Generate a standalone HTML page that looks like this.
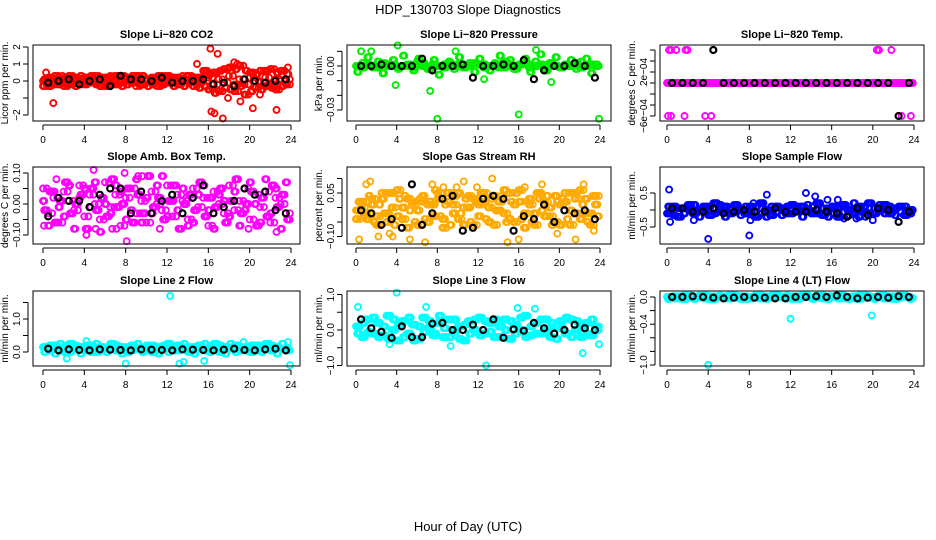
<!DOCTYPE html>
<html><head><meta charset="utf-8"><style>
html,body{margin:0;padding:0;background:#fff;}
svg{display:block;font-family:"Liberation Sans",Arial,sans-serif;}
</style></head><body>
<svg id="fig" width="936" height="540" viewBox="0 0 936 540" xmlns="http://www.w3.org/2000/svg">
<rect width="936" height="540" fill="#fff"/>
<text x="468" y="14" text-anchor="middle" font-size="13">HDP_130703  Slope Diagnostics</text>
<text x="468" y="531" text-anchor="middle" font-size="13">Hour of Day (UTC)</text>
</svg>
<script>
// ---------- data ----------
const halfHours = [0,0.5,1,1.5,2,2.5,3,3.5,4,4.5,5,5.5,6,6.5,7,7.5,8,8.5,9,9.5,10,10.5,11,11.5,12,12.5,13,13.5,14,14.5,15,15.5,16,16.5,17,17.5,18,18.5,19,19.5,20,20.5,21,21.5,22,22.5,23,23.5];
const quarterOffsetHours = [0.25,0.75,1.25,1.75,2.25,2.75,3.25,3.75,4.25,4.75,5.25,5.75,6.25,6.75,7.25,7.75,8.25,8.75,9.25,9.75,10.25,10.75,11.25,11.75,12.25,12.75,13.25,13.75,14.25,14.75,15.25,15.75,16.25,16.75,17.25,17.75,18.25,18.75,19.25,19.75,20.25,20.75,21.25,21.75,22.25,22.75,23.25,23.75];
const eighthHours = [0.12,0.62,1.12,1.62,2.12,2.62,3.12,3.62,4.12,4.62,5.12,5.62,6.12,6.62,7.12,7.62,8.12,8.62,9.12,9.62,10.12,10.62,11.12,11.62,12.12,12.62,13.12,13.62,14.12,14.62,15.12,15.62,16.12,16.62,17.12,17.62,18.12,18.62,19.12,19.62,20.12,20.62,21.12,21.62,22.12,22.62,23.12,23.62];
const threeEighthHours = [0.38,0.88,1.38,1.88,2.38,2.88,3.38,3.88,4.38,4.88,5.38,5.88,6.38,6.88,7.38,7.88,8.38,8.88,9.38,9.88,10.38,10.88,11.38,11.88,12.38,12.88,13.38,13.88,14.38,14.88,15.38,15.88,16.38,16.88,17.38,17.88,18.38,18.88,19.38,19.88,20.38,20.88,21.38,21.88,22.38,22.88,23.38,23.88];
const blackHours = [0.5,1.5,2.5,3.5,4.5,5.5,6.5,7.5,8.5,9.5,10.5,11.5,12.5,13.5,14.5,15.5,16.5,17.5,18.5,19.5,20.5,21.5,22.5,23.5];
const xTicks = [0,4,8,12,16,20,24];

// CO2
const co2A = [-0.3,0.2,-0.2,0.1,-0.3,0.3,0.1,-0.2,0.2,-0.1,0.3,-0.3,0.2,0.1,-0.2,0.3,0.2,-0.1,0.3,-0.2,0.1,0.2,-0.3,0.3,-0.1,0.2,-0.2,0.1,0.3,-0.3,0.2,0.6,-0.5,0.5,-0.6,0.7,0.8,-0.6,0.9,-0.8,0.5,-0.4,0.6,-0.3,0.7,-0.5,0.6,-0.2];
const co2B = [0.1,-0.3,0.3,-0.2,0.2,-0.1,-0.3,0.3,-0.2,0.3,-0.2,0.2,-0.3,-0.2,0.3,-0.3,-0.2,0.3,-0.1,0.3,-0.3,-0.2,0.3,-0.2,0.3,-0.3,0.2,-0.3,-0.1,0.2,-0.4,-0.3,0.4,-0.7,0.6,-0.4,-0.5,0.7,-0.3,0.6,-0.6,0.4,-0.5,0.6,-0.4,0.5,-0.3,0.4];
const co2C = [0,0.1,-0.1,0.3,0,-0.2,0.2,0,-0.1,0.1,0,0.1,-0.1,0.3,0,-0.1,0.1,0,-0.3,0.1,0,-0.1,0.1,0,0.2,-0.1,0,0.3,0,0.1,-0.1,0,0.2,-0.2,0.1,-0.1,0.3,-0.2,0.1,-0.2,0.2,0,-0.1,0.2,-0.2,0.1,0,0.1];
const co2OutX = [1,0.3,16.2,16.9,14.9,16.3,16.6,17.4,18.8,20.3,22.6,23.7,19.1,17.9,18.5,21,15.8];
const co2OutY = [-1.3,0.5,1.9,1.6,1,-1.8,-1.9,-2.2,1,-1.6,-1.7,0.8,-1.2,-1,1.1,-0.8,0.6];
const co2Black = [-0.1,0,0.1,-0.2,0,0.1,-0.3,0.3,0.1,0.1,0,0.2,-0.1,0,0,0.1,-0.2,-0.1,-0.3,0.1,0,-0.1,0,0.1];

// Pressure
const presA = [0,-0.001,0.001,0,-0.001,0.002,0,0.001,-0.001,0,0.001,-0.001,0.003,0,-0.002,0.001,0,-0.001,0.002,0,0.001,-0.001,0,0.002,0.001,-0.001,0,0.001,-0.001,0.003,0,-0.002,0.001,0.002,-0.001,0,0.001,-0.003,0.002,0,-0.001,0.001,0,0.002,-0.001,0,0.001,0];
const presB = [-0.004,0.002,0.006,-0.001,0.003,-0.005,0.001,0.004,-0.002,0.007,0,-0.003,0.005,0.002,-0.001,0.004,-0.006,0.001,0.003,-0.002,0.006,0,0.002,-0.004,0.005,0.001,-0.003,0.002,0.007,-0.001,0.004,-0.002,0.001,0.005,-0.004,0.003,0.008,-0.003,0.002,0.006,-0.001,0,0.004,-0.002,0.003,0.005,-0.005,0.001];
const presOutX = [8,16,23.9,7.3,4.1,1.5,3.9,0.5,9.8,17.7,19.2,12.6];
const presOutY = [-0.036,-0.033,-0.036,-0.017,0.014,0.01,-0.013,0.01,0.01,0.011,-0.011,-0.009];
const presBlack = [0,0,0.001,0,0,0,0.005,-0.003,0,0,0.001,-0.008,0,0,0.001,0,0.004,-0.009,-0.003,0,0,0.002,0,-0.008];

// Li-820 temperature
const tempA = [0,0,0,0,0,0,0,0,0,0,0,0,0,0,0,0,0,0,0,0,0,0,0,0,0,0,0,0,0,0,0,0,0,0,0,0,0,0,0,0,0,0,0,0,0,0,0,0];
const tempOutX = [0.2,0.4,0.9,1.8,2.0,20.4,20.5,20.6,21.8,0.1,0.4,1.7,3.7,4.3,22.8,23.7];
const tempOutY = [0.0006,0.0006,0.0006,0.0006,0.0006,0.0006,0.0006,0.0006,0.0006,-0.0006,-0.0006,-0.0006,-0.0006,-0.0006,-0.0006,-0.0006];
const tempBlack = [0,0,0,0,0.0006,0,0,0,0,0,0,0,0,0,0,0,0,0,0,0,0,0,-0.0006,0];

// Amb box temp
const ambA = [0.05,-0.03,0.02,-0.06,0.04,0.01,-0.02,0.06,-0.04,0.03,0,-0.05,0.07,-0.01,0.03,-0.07,0.02,0.05,-0.03,0.01,-0.06,0.04,0,-0.02,0.06,-0.04,0.03,0.01,-0.05,0.05,-0.01,0.02,-0.07,0.04,0,-0.03,0.06,-0.02,0.01,0.05,-0.05,0.03,-0.01,0.04,-0.06,0.02,0,-0.03];
const ambB = [-0.02,0.04,-0.06,0.01,0.07,-0.03,0,0.03,-0.08,0.05,-0.02,0.02,-0.04,0.08,-0.01,0,0.05,-0.06,0.03,-0.03,0.09,-0.01,0.02,-0.05,0.01,0.06,-0.08,0,0.03,-0.02,0.07,-0.04,0.02,-0.01,0.05,-0.06,0.01,0.08,-0.03,0,0.04,-0.07,0.02,-0.04,0.06,-0.01,0.03,-0.05];
const ambC = [0.01,-0.07,0.04,-0.01,-0.04,0.06,-0.08,0.02,0.05,-0.01,0.07,-0.09,0,-0.03,0.06,0.04,-0.05,-0.02,0.08,-0.06,0.02,-0.03,0.06,0.09,-0.04,0.01,-0.02,0.05,-0.07,-0.06,0.03,0.06,-0.02,-0.08,0.03,0.01,-0.04,0.04,-0.07,-0.02,0.07,0,-0.06,0.08,-0.03,0.05,-0.08,0.07];
const ambOutX = [0.1,4.9,4.2,7.9,8.1,7.1,9.2,9.6,11.3,19.9,22.6,1.3,6.7,5.1];
const ambOutY = [-0.07,0.11,-0.1,0.1,-0.12,-0.08,0.09,0.09,-0.08,-0.08,-0.09,0.08,-0.08,-0.08];
const ambBlack = [-0.04,0.02,0.01,0.01,-0.01,0.03,0.05,0.05,-0.03,0.04,-0.03,0.01,0.03,-0.03,0.02,0.06,-0.03,-0.01,0.01,0.05,0.03,0.04,-0.02,-0.03];

// Gas stream RH
const rhA = [-0.01,0.02,-0.04,0.01,-0.06,0.03,-0.02,0.05,-0.03,0,-0.07,0.02,-0.01,0.04,-0.05,0.01,0.03,-0.04,0.02,-0.02,0.05,-0.06,0,0.03,-0.03,0.02,-0.05,0.04,-0.01,0.06,-0.04,0.01,0.02,-0.07,0.03,-0.02,0.05,-0.03,0,0.04,-0.06,0.02,-0.01,0.05,-0.04,0.03,-0.02,0.01];
const rhB = [0.02,-0.03,0.04,-0.05,0.01,-0.02,0.05,-0.06,0.03,0.04,-0.01,-0.05,0.03,-0.04,0.02,0.06,-0.03,0.01,-0.06,0.04,-0.02,0.03,-0.05,0.02,0.05,-0.04,0.03,-0.01,0.04,-0.05,0.02,0.05,-0.04,0.02,-0.05,0.05,-0.01,0.04,-0.06,0.02,0.03,-0.04,0.05,-0.02,0.01,-0.05,0.04,-0.03];
const rhC = [-0.04,0,-0.02,0.03,-0.03,0.05,-0.05,0,0.06,-0.04,0.03,0.01,-0.06,0.02,0.01,-0.03,0.05,-0.07,0.05,0.01,-0.04,0,0.04,-0.06,0.01,0.05,0,-0.06,0.02,-0.02,0.05,-0.05,0.06,-0.02,0.01,-0.06,0.03,0.02,-0.03,-0.05,0.01,0.05,-0.06,0.03,0.06,-0.02,-0.06,0.04];
const rhOutX = [0.3,1,1.4,2.2,3.3,3.6,5.3,6.8,8.6,9.9,11.9,13.4,14.9,16,16.6,18.3,19.8,21.6,22.4,23.4,10.6,7.5];
const rhOutY = [-0.11,0.08,0.09,-0.1,-0.09,-0.1,-0.11,-0.12,0.07,0.07,0.07,0.1,-0.12,-0.11,0.07,0.08,-0.09,-0.11,0.08,-0.08,0.09,0.08];
const rhBlack = [-0.01,-0.02,-0.06,-0.04,-0.07,0.08,-0.06,-0.02,0.03,0.04,-0.08,-0.07,0.03,0.04,0.03,-0.08,-0.03,-0.04,0.01,-0.05,-0.01,-0.02,-0.01,-0.04];

// Sample flow
const sfA = [-0.1,0.1,-0.2,0.05,0.15,-0.1,0,0.1,-0.15,0.2,-0.05,0.1,-0.1,0.15,0,-0.1,0.1,-0.2,0.2,0,-0.15,0.1,0.05,-0.1,0.15,-0.05,0.1,0,-0.1,0.2,-0.15,0.05,0.1,-0.2,0.15,0,-0.1,0.1,-0.05,0.2,-0.1,0,0.15,-0.1,0.05,0.1,-0.15,0];
const sfB = [0.1,-0.15,0.05,-0.1,0,0.15,-0.2,0,0.1,-0.1,0.15,-0.2,0.05,-0.05,-0.15,0.1,-0.05,0.1,-0.1,-0.2,0.1,-0.05,-0.15,0.1,-0.1,0.1,-0.2,0.15,0.1,-0.1,0.05,-0.2,-0.1,0.1,-0.05,-0.15,0.2,-0.2,0.1,-0.1,0.05,0.15,-0.1,0.1,-0.15,-0.05,0.1,-0.1];
const sfOutX = [0.2,0.3,4,8,8.1,9.7,13.5,14.4,15.6,16.6,17.2,18.4,20,2.6,19.3,8.4];
const sfOutY = [0.6,-0.35,-0.85,-0.75,-0.3,0.45,0.5,0.4,0.3,0.3,-0.25,-0.25,-0.3,-0.3,-0.2,0.2];
const sfBlack = [0.05,0.05,-0.05,-0.05,0.05,-0.1,-0.05,0,-0.05,-0.05,0.05,-0.05,-0.05,-0.05,0,-0.05,-0.1,-0.2,0.05,-0.15,0.05,0,-0.35,-0.05];

// Line 2 flow
const l2A = [0.15,0.05,0.2,0.1,0,0.25,0.1,0.15,0.05,0.2,0,0.15,0.1,0.25,0.05,0.15,0,0.2,0.1,0.05,0.2,0,0.15,0.1,0.25,0.05,0.2,0.1,0,0.15,0.2,0.05,0.1,0.25,0,0.15,0.1,0.2,0.05,0.15,0,0.2,0.1,0.25,0.05,0.15,0.1,0.05];
const l2B = [0,0.2,-0.05,0.25,0.15,0,0.2,-0.05,0.2,0,0.25,0.05,0,0.1,0.2,-0.05,0.15,0.05,0.25,0,0.1,0.2,-0.05,0.2,0,0.15,0.05,0.25,0.15,-0.05,0.1,0.25,0,0.1,0.2,-0.05,0.25,0,0.15,0.05,0.2,0.05,0,0.1,0.2,-0.05,0.25,0.1];
const l2OutX = [12.3,2.3,8,13.2,13.6,15.6,23.9,23.7,4.2,19.4];
const l2OutY = [1.7,-0.2,-0.35,-0.35,-0.3,-0.27,-0.4,0.3,0.33,0.3];
const l2Black = [0.1,0.05,0.08,0.06,0.05,0.08,0.07,0.06,0.05,0.08,0.07,0.06,0.05,0.08,0.07,0.06,0.05,0.07,0.1,0.06,0.05,0.08,0.1,0.05];

// Line 3 flow
const l3A = [0.1,-0.2,0.3,-0.1,0.2,-0.15,0.4,0,-0.3,0.25,-0.1,0.15,-0.25,0.35,0.05,-0.15,0.2,-0.2,0.3,-0.05,0.1,-0.3,0.25,0,0.35,-0.1,0.2,-0.2,0.1,0.3,-0.25,0.15,0,0.4,-0.15,0.2,-0.1,0.3,-0.2,0.1,0.25,-0.1,0.3,0,-0.2,0.2,-0.15,0.1];
const l3B = [-0.1,0.2,-0.05,0.35,-0.2,0.1,-0.25,0.3,0.15,-0.2,0.35,-0.3,0.1,-0.05,0.25,-0.1,0.4,0.05,-0.2,0.3,-0.25,0.15,-0.1,0.3,-0.15,0.25,-0.05,0.3,-0.2,0,0.25,-0.1,0.35,-0.2,0.1,-0.1,0.3,0,0.2,-0.25,0.05,0.35,-0.2,0.25,0.1,-0.1,0.3,0];
const l3OutX = [0.2,4,6.9,12.8,15.9,17.6,22.3,3.3,9.3,23.9];
const l3OutY = [0.65,1.05,0.65,-1,0.62,0.6,-0.65,-0.4,-0.45,-0.4];
const l3Black = [0.3,0.05,-0.05,-0.22,0.1,-0.2,-0.2,0.18,0.2,0,0,0.15,0,0.3,-0.22,0.02,-0.02,0.2,0.05,-0.1,0,0.15,0.05,0];

// Line 4 flow
const l4A = [0,-0.02,0.01,-0.03,0.02,0,-0.01,0.02,-0.03,0.01,0,-0.02,0.03,-0.01,0.01,-0.03,0,0.02,-0.02,0.01,-0.01,0.03,0,-0.02,0.01,-0.03,0.02,0,-0.01,0.02,-0.02,0.01,0,0.03,-0.02,0,0.01,-0.03,0.02,-0.01,0,0.02,-0.02,0.01,-0.03,0.02,0,-0.01];
const l4B = [-0.03,0.01,-0.02,0.02,-0.01,-0.03,0.02,-0.02,0.01,-0.03,0.02,0.01,-0.02,0.02,-0.03,0.01,-0.02,-0.01,0.02,-0.03,0.02,-0.01,0.01,0.02,-0.03,0.01,-0.01,0.02,-0.03,-0.01,0.02,-0.03,0.01,-0.02,0.02,-0.03,-0.02,0.02,-0.01,0.01,-0.03,-0.01,0.02,-0.02,0.01,-0.01,0.02,-0.03];
const l4OutX = [4,12,19.9,0.1];
const l4OutY = [-1.0,-0.32,-0.27,-0.03];
const l4Black = [0,0,0.01,0,-0.01,-0.02,-0.01,0,-0.01,-0.01,-0.02,-0.02,0,0,0.01,0,0.02,0,-0.02,-0.01,0,-0.01,0.01,0];

// ---------- rendering ----------
const NS = "http://www.w3.org/2000/svg";
const svg = document.getElementById("fig");
function mk(tag, attrs, parent){ const e=document.createElementNS(NS,tag); for(const k in attrs) e.setAttribute(k,attrs[k]); (parent||svg).appendChild(e); return e; }

const cols = [{l:33,r:300,x0:43,x24:291},{l:347,r:611,x0:356,x24:600},{l:660,r:924,x0:667,x24:914}];
const rows = [{t:45,b:121},{t:167,b:244},{t:291,b:366}];

function drawPanel(o){
  const c = cols[o.col], rw = rows[o.row];
  const g = mk("g",{});
  
  
  const xs = h => c.x0 + (c.x24 - c.x0) * h / 24;
  const ys = v => o.y0px + (o.y1px - o.y0px) * (v - o.v0) / (o.v1 - o.v0);
  const t = mk("text",{x:(c.l+c.r)/2,y:rw.t-7,"text-anchor":"middle","font-size":"11","font-weight":"bold"},g);
  t.textContent = o.title;
  
  
  const pg = mk("g",{fill:"none"},g);
  
  
  function pts(xsArr, vals, color, sw){
    for(let i=0;i<vals.length && i<xsArr.length;i++){
      const y = ys(vals[i]);
      const p = mk("circle",{cx:xs(xsArr[i]).toFixed(1),cy:y.toFixed(1),r:"3",stroke:color,"stroke-width":sw},pg);
      
      
    }
  }
  o.series.forEach(s => pts(s[0], s[1], o.color, "1.9"));
  pts(blackHours, o.black, "#000", "2.2");
  const f = mk("rect",{x:c.l,y:rw.t,width:c.r-c.l,height:rw.b-rw.t,fill:"none",stroke:"#000","stroke-width":"1"},g);
  
  
  xTicks.forEach(h=>{
    const x = xs(h);
    mk("line",{x1:x,x2:x,y1:rw.b+4,y2:rw.b+9,stroke:"#000"},g);
    const tl = mk("text",{x:x,y:rw.b+22,"text-anchor":"middle","font-size":"10"},g);
    tl.textContent = h;
    
    
  });
  mk("line",{x1:xs(0),x2:xs(24),y1:rw.b+4,y2:rw.b+4,stroke:"#000"},g);
  const ax = c.l - 5;
  const yTop = ys(o.yTicks[o.yTicks.length-1]), yBot = ys(o.yTicks[0]);
  mk("line",{x1:ax,x2:ax,y1:yTop,y2:yBot,stroke:"#000"},g);
  o.yTicks.forEach((v,i)=>{
    const y = ys(v);
    mk("line",{x1:ax-5,x2:ax,y1:y,y2:y,stroke:"#000"},g);
    if(o.yLabels[i]){
      const tl = mk("text",{x:0,y:0,"text-anchor":"middle","font-size":"10",transform:`translate(${ax-8},${y}) rotate(-90)`},g);
      tl.textContent = o.yLabels[i];
      
      
    }
  });
  const yl = mk("text",{x:0,y:0,"text-anchor":"middle","font-size":"10",transform:`translate(${c.l-25},${(rw.t+rw.b)/2}) rotate(-90)`},g);
  yl.textContent = o.ylab;
  
  
}

const H = halfHours, Q = quarterOffsetHours, E = eighthHours, T = threeEighthHours;
drawPanel({name:"panel-co2",col:0,row:0,title:"Slope Li\u2212820 CO2",ylab:"Licor ppm per min.",color:"#ff0000",
  v0:0,v1:1,y0px:81,y1px:64,yTicks:[-2,-1,0,1,2],yLabels:["\u22122","","0","1","2"],
  series:[[H,co2A],[Q,co2B],[H,co2C],[E,co2B],[T,co2C],[E,co2A],[T,co2A],[co2OutX,co2OutY]],black:co2Black});
drawPanel({name:"panel-pressure",col:1,row:0,title:"Slope Li\u2212820 Pressure",ylab:"kPa per min.",color:"#00ee00",
  v0:0,v1:0.01,y0px:66,y1px:51.33,yTicks:[-0.03,-0.02,-0.01,0,0.01],yLabels:["\u22120.03","","","0.00",""],
  series:[[H,presA],[Q,presB],[Q,presA],[E,presA],[T,presA],[E,presB],[presOutX,presOutY]],black:presBlack});
drawPanel({name:"panel-li820-temp",col:2,row:0,title:"Slope Li\u2212820 Temp.",ylab:"degrees C per min.",color:"#ff00ff",
  v0:0,v1:0.0002,y0px:83,y1px:72,yTicks:[-0.0006,-0.0004,-0.0002,0,0.0002,0.0004,0.0006],yLabels:["\u22126e\u221204","","","","2e\u221204","",""],
  series:[[H,tempA],[Q,tempA],[E,tempA],[T,tempA],[tempOutX,tempOutY]],black:tempBlack});
drawPanel({name:"panel-amb-box-temp",col:0,row:1,title:"Slope Amb. Box Temp.",ylab:"degrees C per min.",color:"#ff00ff",
  v0:0,v1:0.1,y0px:204,y1px:173,yTicks:[-0.1,-0.05,0,0.05,0.1],yLabels:["\u22120.10","","0.00","","0.10"],
  series:[[H,ambA],[Q,ambB],[H,ambC],[E,ambB],[T,ambA],[E,ambC],[T,ambB],[ambOutX,ambOutY]],black:ambBlack});
drawPanel({name:"panel-gas-stream-rh",col:1,row:1,title:"Slope Gas Stream RH",ylab:"percent per min.",color:"#ffaa00",
  v0:0,v1:0.05,y0px:207.5,y1px:193,yTicks:[-0.1,-0.05,0,0.05,0.1],yLabels:["\u22120.10","","","0.05",""],
  series:[[H,rhA],[Q,rhB],[H,rhC],[Q,rhA],[E,rhC],[T,rhB],[E,rhA],[T,rhC],[rhOutX,rhOutY]],black:rhBlack});
drawPanel({name:"panel-sample-flow",col:2,row:1,title:"Slope Sample Flow",ylab:"ml/min per min.",color:"#0000ff",
  v0:0,v1:0.5,y0px:210,y1px:193,yTicks:[-0.5,0,0.5],yLabels:["\u22120.5","","0.5"],
  series:[[H,sfA],[Q,sfB],[Q,sfA],[E,sfB],[T,sfA],[E,sfA],[sfOutX,sfOutY]],black:sfBlack});
drawPanel({name:"panel-line2-flow",col:0,row:2,title:"Slope Line 2 Flow",ylab:"ml/min per min.",color:"#00ffff",
  v0:0,v1:1,y0px:352,y1px:319,yTicks:[0,0.5,1,1.5],yLabels:["0.0","","1.0",""],
  series:[[H,l2A],[Q,l2B],[Q,l2A],[E,l2B],[T,l2A],[E,l2A],[l2OutX,l2OutY]],black:l2Black});
drawPanel({name:"panel-line3-flow",col:1,row:2,title:"Slope Line 3 Flow",ylab:"ml/min per min.",color:"#00ffff",
  v0:0,v1:1,y0px:330,y1px:294.5,yTicks:[-1,-0.5,0,0.5,1],yLabels:["\u22121.0","","0.0","","1.0"],
  series:[[H,l3A],[Q,l3B],[Q,l3A],[E,l3B],[T,l3A],[E,l3A],[T,l3B],[l3OutX,l3OutY]],black:l3Black});
drawPanel({name:"panel-line4-flow",col:2,row:2,title:"Slope Line 4 (LT) Flow",ylab:"ml/min per min.",color:"#00ffff",
  v0:0,v1:-1,y0px:297,y1px:365,yTicks:[-1,-0.8,-0.6,-0.4,-0.2,0],yLabels:["\u22121.0","","","\u22120.4","","0.0"],
  series:[[H,l4A],[Q,l4B],[Q,l4A],[E,l4B],[T,l4A],[l4OutX,l4OutY]],black:l4Black});
</script>
</body></html>
